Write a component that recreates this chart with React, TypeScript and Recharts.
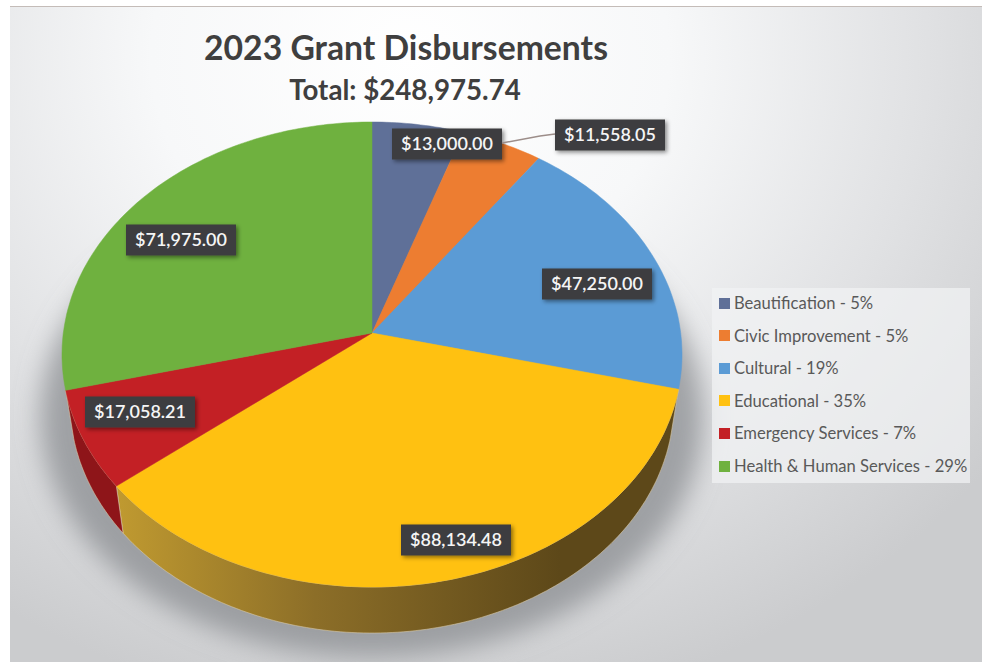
import React from 'react';
import { PieChart, Pie, Legend } from 'recharts';

const categories = ['Beautification', 'Civic Improvement', 'Cultural', 'Educational', 'Emergency Services', 'Health & Human Services'];
const amounts = [13000.0, 11558.05, 47250.0, 88134.48, 17058.21, 71975.0];
const shares = [5, 5, 19, 35, 7, 29];
const totalAmount = 248975.74;

const topColors = ['#5f7098', '#ed7d31', '#5b9bd5', '#ffc111', '#c32025', '#6fb13f'];
const sideColors = ['none', 'none', 'none', 'url(#yellowSide)', '#8e1519', 'none'];

// label box centres, chart pixels
const labelCenters = [[447, 144], [610, 135], [597, 284], [456, 540], [140, 412], [181, 240]];

const pieData = categories.map((name, i) => ({ name, value: amounts[i] }));
const shadowData = [{ name: 'Total', value: totalAmount }];

const FONT = 'Lato, sans-serif';
const TILT = -0.0925; // perspective: the apex sits above the ellipse centre

// circle angle -> perspective ellipse, relative to the ellipse centre
function project(theta: number, rx: number, ry: number) {
  const a = (theta * Math.PI) / 180;
  const u = Math.sin(a);
  const v = -Math.cos(a);
  const w = 1 + TILT * v;
  return { x: (u * rx * Math.sqrt(1 - TILT * TILT)) / w, y: (ry * (v + TILT)) / w };
}

function rimPoints(from: number, to: number, cx: number, cy: number, rx: number, ry: number) {
  const steps = Math.max(2, Math.ceil(Math.abs(to - from)));
  const pts: string[] = [];
  for (let i = 0; i <= steps; i++) {
    const p = project(from + ((to - from) * i) / steps, rx, ry);
    pts.push(`${(cx + p.x).toFixed(1)} ${(cy + p.y).toFixed(1)}`);
  }
  return pts;
}

function TopSector(props: any) {
  const { cx, cy, outerRadius, startAngle, endAngle, fill } = props;
  const ry = outerRadius * 0.75;
  const rim = rimPoints(90 - startAngle, 90 - endAngle, cx, cy - TILT * ry, outerRadius, ry);
  return <path d={`M${cx} ${cy}L${rim.join('L')}Z`} fill={fill} stroke={fill} strokeWidth={0.5} />;
}

function SideSector(props: any) {
  const { cx, cy, outerRadius, startAngle, endAngle, fill } = props;
  if (fill === 'none') return null;
  const ry = outerRadius * 0.75;
  const from = 90 - startAngle;
  const to = 90 - endAngle;
  const upper = rimPoints(from, to, cx, cy - TILT * ry, outerRadius, ry);
  const lower = rimPoints(to, from, cx, cy + 70, outerRadius * 0.974, outerRadius * 0.742);
  return <path d={`M${upper.join('L')}L${lower.join('L')}Z`} fill={fill} stroke="#d8c9a8" strokeWidth={0.6} />;
}

function ShadowSector(props: any) {
  const { cx, cy, outerRadius } = props;
  const rim = rimPoints(0, 360, cx, cy + 84, outerRadius * 1.07, outerRadius * 0.775);
  return <path d={`M${rim.join('L')}Z`} fill="#86898e" fillOpacity={0.72} filter="url(#pieShadow)" />;
}

const money = (n: number) =>
  '$' + n.toLocaleString('en-US', { minimumFractionDigits: 2, maximumFractionDigits: 2 });

function AmountLabel(props: any) {
  const { index, value } = props;
  const [x, y] = labelCenters[index];
  return (
    <g>
      {index === 1 && <polyline points={`${x - 108},${y + 8} ${x - 70},${y + 1} ${x - 55},${y - 1}`} fill="none" stroke="#9c8d89" strokeWidth={1.5} />}
      <rect x={x - 55} y={y - 15.5} width={110} height={31} fill="#3e3e3f" filter="url(#boxShadow)" />
      <text x={x} y={y + 6} textAnchor="middle" fontFamily={FONT} fontSize={18} fontWeight={600} fill="#f5f5f5">
        {money(value)}
      </text>
    </g>
  );
}

function ShareLegend() {
  return (
    <div style={{ width: 258, height: 195, background: 'rgba(241,242,244,0.72)', position: 'relative', fontFamily: FONT }}>
      {categories.map((name, i) => (
        <div key={name} style={{ position: 'absolute', left: 7, top: 14 + i * 32.6 - 7, height: 16, display: 'flex', alignItems: 'center', whiteSpace: 'nowrap' }}>
          <span style={{ width: 11, height: 11, background: topColors[i], display: 'inline-block', marginRight: 4 }} />
          <span style={{ fontSize: 16.6, color: '#595959', lineHeight: '16px' }}>{`${name} - ${shares[i]}%`}</span>
        </div>
      ))}
    </div>
  );
}

export default function App() {
  return (
    <div style={{ position: 'absolute', left: 0, top: 0, width: 988, height: 662, background: '#fff', overflow: 'hidden' }}>
      <div
        style={{
          position: 'absolute', left: 10, top: 6, width: 972, height: 656,
          borderTop: '1px solid #c4bcb8',
          background: 'radial-gradient(ellipse 740px 660px at 400px 50px, #ffffff 0%, #f7f8f9 35%, #e0e1e3 70%, #cbcccE 100%)',
        }}
      />
      <div style={{ position: 'absolute', left: 0, top: 25, width: 812, textAlign: 'center', fontFamily: FONT, fontWeight: 700, fontSize: 33.7, lineHeight: '44px', color: '#3f3f3f' }}>
        2023 Grant Disbursements
      </div>
      <div style={{ position: 'absolute', left: 0, top: 72, width: 810, textAlign: 'center', fontFamily: FONT, fontWeight: 700, fontSize: 27.7, lineHeight: '36px', color: '#3f3f3f' }}>
        {`Total: ${money(totalAmount)}`}
      </div>
      <div style={{ position: 'absolute', left: 0, top: 0 }}>
        <PieChart width={988} height={662} margin={{ top: 0, right: 0, bottom: 0, left: 0 }}>
          <defs>
            <linearGradient id="yellowSide" gradientUnits="userSpaceOnUse" x1="116" y1="0" x2="560" y2="0">
              <stop offset="0%" stopColor="#c09a30" />
              <stop offset="45%" stopColor="#8c6e28" />
              <stop offset="100%" stopColor="#5d4819" />
            </linearGradient>
            <filter id="pieShadow" x="-10%" y="-10%" width="120%" height="120%">
              <feGaussianBlur stdDeviation="13" />
            </filter>
            <filter id="boxShadow" x="-10%" y="-20%" width="125%" height="150%">
              <feDropShadow dx="2" dy="2" stdDeviation="2" floodColor="#000" floodOpacity="0.45" />
            </filter>
          </defs>
          <Pie data={shadowData} dataKey="value" cx={372} cy={333} outerRadius={310} startAngle={90} endAngle={-270} shape={ShadowSector} legendType="none" isAnimationActive={false} />
          <Pie
            data={pieData.map((d, i) => ({ ...d, fill: sideColors[i] }))}
            dataKey="value" cx={372} cy={333} outerRadius={310} startAngle={90} endAngle={-270}
            shape={SideSector} legendType="none" isAnimationActive={false}
          />
          <Pie
            data={pieData.map((d, i) => ({ ...d, fill: topColors[i] }))}
            dataKey="value" nameKey="name" cx={372} cy={333} outerRadius={310} startAngle={90} endAngle={-270}
            shape={TopSector} label={AmountLabel} labelLine={false} isAnimationActive={false}
          />
          <Legend content={ShareLegend} layout="vertical" wrapperStyle={{ position: 'absolute', left: 712, top: 288, width: 258, height: 195 }} />
        </PieChart>
      </div>
    </div>
  );
}
